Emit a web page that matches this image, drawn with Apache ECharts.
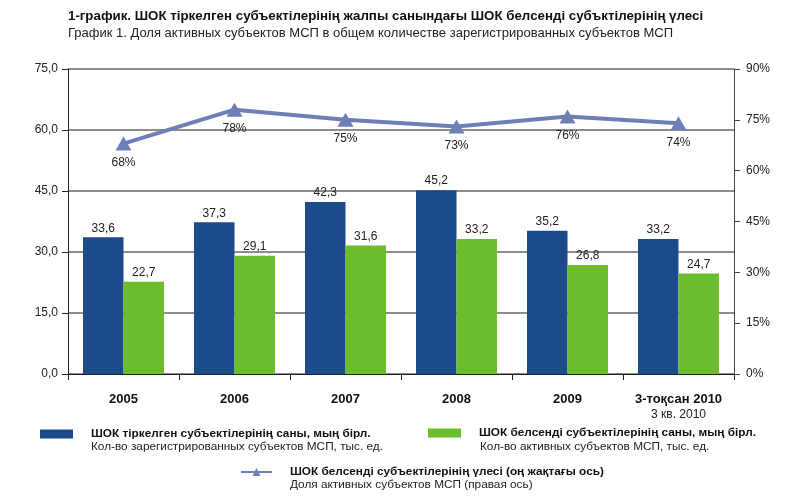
<!DOCTYPE html>
<html>
<head>
<meta charset="utf-8">
<script src="https://cdn.jsdelivr.net/npm/echarts@6/dist/echarts.min.js"></script>
<style>
html,body{margin:0;padding:0;background:#fff;}
#c{width:800px;height:504px;}
</style>
</head>
<body>
<div id="c"></div>
<script>
const categories = ['2005', '2006', '2007', '2008', '2009', '3-тоқсан 2010\n3 кв. 2010'];
const registered = [33.6, 37.3, 42.3, 45.2, 35.2, 33.2];
const active = [22.7, 29.1, 31.6, 33.2, 26.8, 24.7];
const share = [68, 78, 75, 73, 76, 74];
const leftTicks = {min: 0, max: 75, interval: 15};
const rightTicks = {min: 0, max: 90, interval: 15};

const titleKz = '1-график. ШОК тіркелген субъектілерінің жалпы санындағы ШОК белсенді субъктілерінің үлесі';
const titleRu = 'График 1. Доля активных субъектов МСП в общем количестве зарегистрированных субъектов МСП';
const nameReg = 'ШОК тіркелген субъектілерінің саны, мың бірл.';
const nameRegRu = 'Кол-во зарегистрированных субъектов МСП, тыс. ед.';
const nameAct = 'ШОК белсенді субъектілерінің саны, мың бірл.';
const nameActRu = 'Кол-во активных субъектов МСП, тыс. ед.';
const nameShare = 'ШОК белсенді субъектілерінің үлесі (оң жақтағы ось)';
const nameShareRu = 'Доля активных субъектов МСП (правая ось)';

const FONT = '"Liberation Sans", Arial, sans-serif';
const BLUE = '#1c4b8c';
const GREEN = '#6cbd2c';
const LINEC = '#6e7eb6';
const comma = v => v.toFixed(1).replace('.', ',');

const chart = echarts.init(document.getElementById('c'), null, {renderer: 'canvas'});
function legendFor(name, left, top, w, h, pad, icon) {
  const o = {
    data: [name], left: left, top: top, padding: 0, itemWidth: w, itemHeight: h, selectedMode: false,
    formatter: n => '{a|' + n + '}',
    textStyle: {rich: {a: {fontFamily: FONT, fontSize: 11.8, fontWeight: 'bold', color: '#111', padding: [0, 0, 0, pad], lineHeight: 14}}}
  };
  if (icon) o.icon = icon;
  return o;
}
chart.setOption({
  animation: false,
  textStyle: {fontFamily: FONT},
  title: {
    text: titleKz, subtext: titleRu, left: 63, top: 5, itemGap: 4,
    textStyle: {fontFamily: FONT, fontSize: 13.3, fontWeight: 'bold', color: '#111'},
    subtextStyle: {fontFamily: FONT, fontSize: 13, color: '#222'}
  },
  grid: {left: 68, right: 66, top: 69, bottom: 130},
  xAxis: {
    type: 'category', data: categories,
    axisLine: {lineStyle: {color: '#222', width: 1}},
    axisTick: {show: true, interval: 0, length: 6, inside: false, lineStyle: {color: '#222'}},
    axisLabel: {
      interval: 0, margin: 18, color: '#111', fontFamily: FONT, fontSize: 13, fontWeight: 'bold', lineHeight: 15,
      formatter: v => {
        const p = v.split('\n');
        return p.length > 1 ? p[0] + '\n{s|' + p[1] + '}' : v;
      },
      rich: {s: {fontWeight: 'normal', fontSize: 12, fontFamily: FONT, color: '#222', lineHeight: 15}}
    }
  },
  yAxis: [
    {
      type: 'value', min: leftTicks.min, max: leftTicks.max, interval: leftTicks.interval,
      axisLine: {show: true, lineStyle: {color: '#222'}},
      axisTick: {show: true, length: 6, lineStyle: {color: '#222'}},
      axisLabel: {formatter: v => comma(v), color: '#222', fontFamily: FONT, fontSize: 12, margin: 10},
      splitLine: {show: true, lineStyle: {color: '#666', width: 1.5}}
    },
    {
      type: 'value', min: rightTicks.min, max: rightTicks.max, interval: rightTicks.interval,
      axisLine: {show: true, lineStyle: {color: '#444'}},
      axisTick: {show: true, length: 6, lineStyle: {color: '#444'}},
      axisLabel: {formatter: '{value}%', color: '#222', fontFamily: FONT, fontSize: 12, margin: 12},
      splitLine: {show: false}
    }
  ],
  legend: [
    legendFor(nameReg, 40, 428, 33, 9, 13, 'rect'),
    legendFor(nameAct, 428, 427, 33, 9, 13, 'rect'),
    legendFor(nameShare, 240, 466, 31, 10, 13)
  ],
  graphic: [
    {type: 'text', left: 91, top: 441, style: {text: nameRegRu, font: '11.8px ' + FONT, fill: '#222'}},
    {type: 'text', left: 480, top: 441, style: {text: nameActRu, font: '11.8px ' + FONT, fill: '#222'}},
    {type: 'text', left: 290, top: 479, style: {text: nameShareRu, font: '11.8px ' + FONT, fill: '#222'}}
  ],
  series: [
    {
      name: nameReg, type: 'bar', data: registered, barGap: '0%', barCategoryGap: '27%',
      itemStyle: {color: BLUE},
      label: {show: true, position: 'top', distance: 3, formatter: p => comma(p.value), color: '#222', fontFamily: FONT, fontSize: 12}
    },
    {
      name: nameAct, type: 'bar', data: active,
      itemStyle: {color: GREEN},
      label: {show: true, position: 'top', distance: 3, formatter: p => comma(p.value), color: '#222', fontFamily: FONT, fontSize: 12}
    },
    {
      name: nameShare, type: 'line', yAxisIndex: 1, data: share,
      symbol: 'triangle', symbolSize: [16, 14], z: 5,
      lineStyle: {color: LINEC, width: 4}, itemStyle: {color: LINEC},
      label: {show: true, position: 'bottom', distance: 6, formatter: '{c}%', color: '#222', fontFamily: FONT, fontSize: 12}
    }
  ]
});
</script>
</body>
</html>
